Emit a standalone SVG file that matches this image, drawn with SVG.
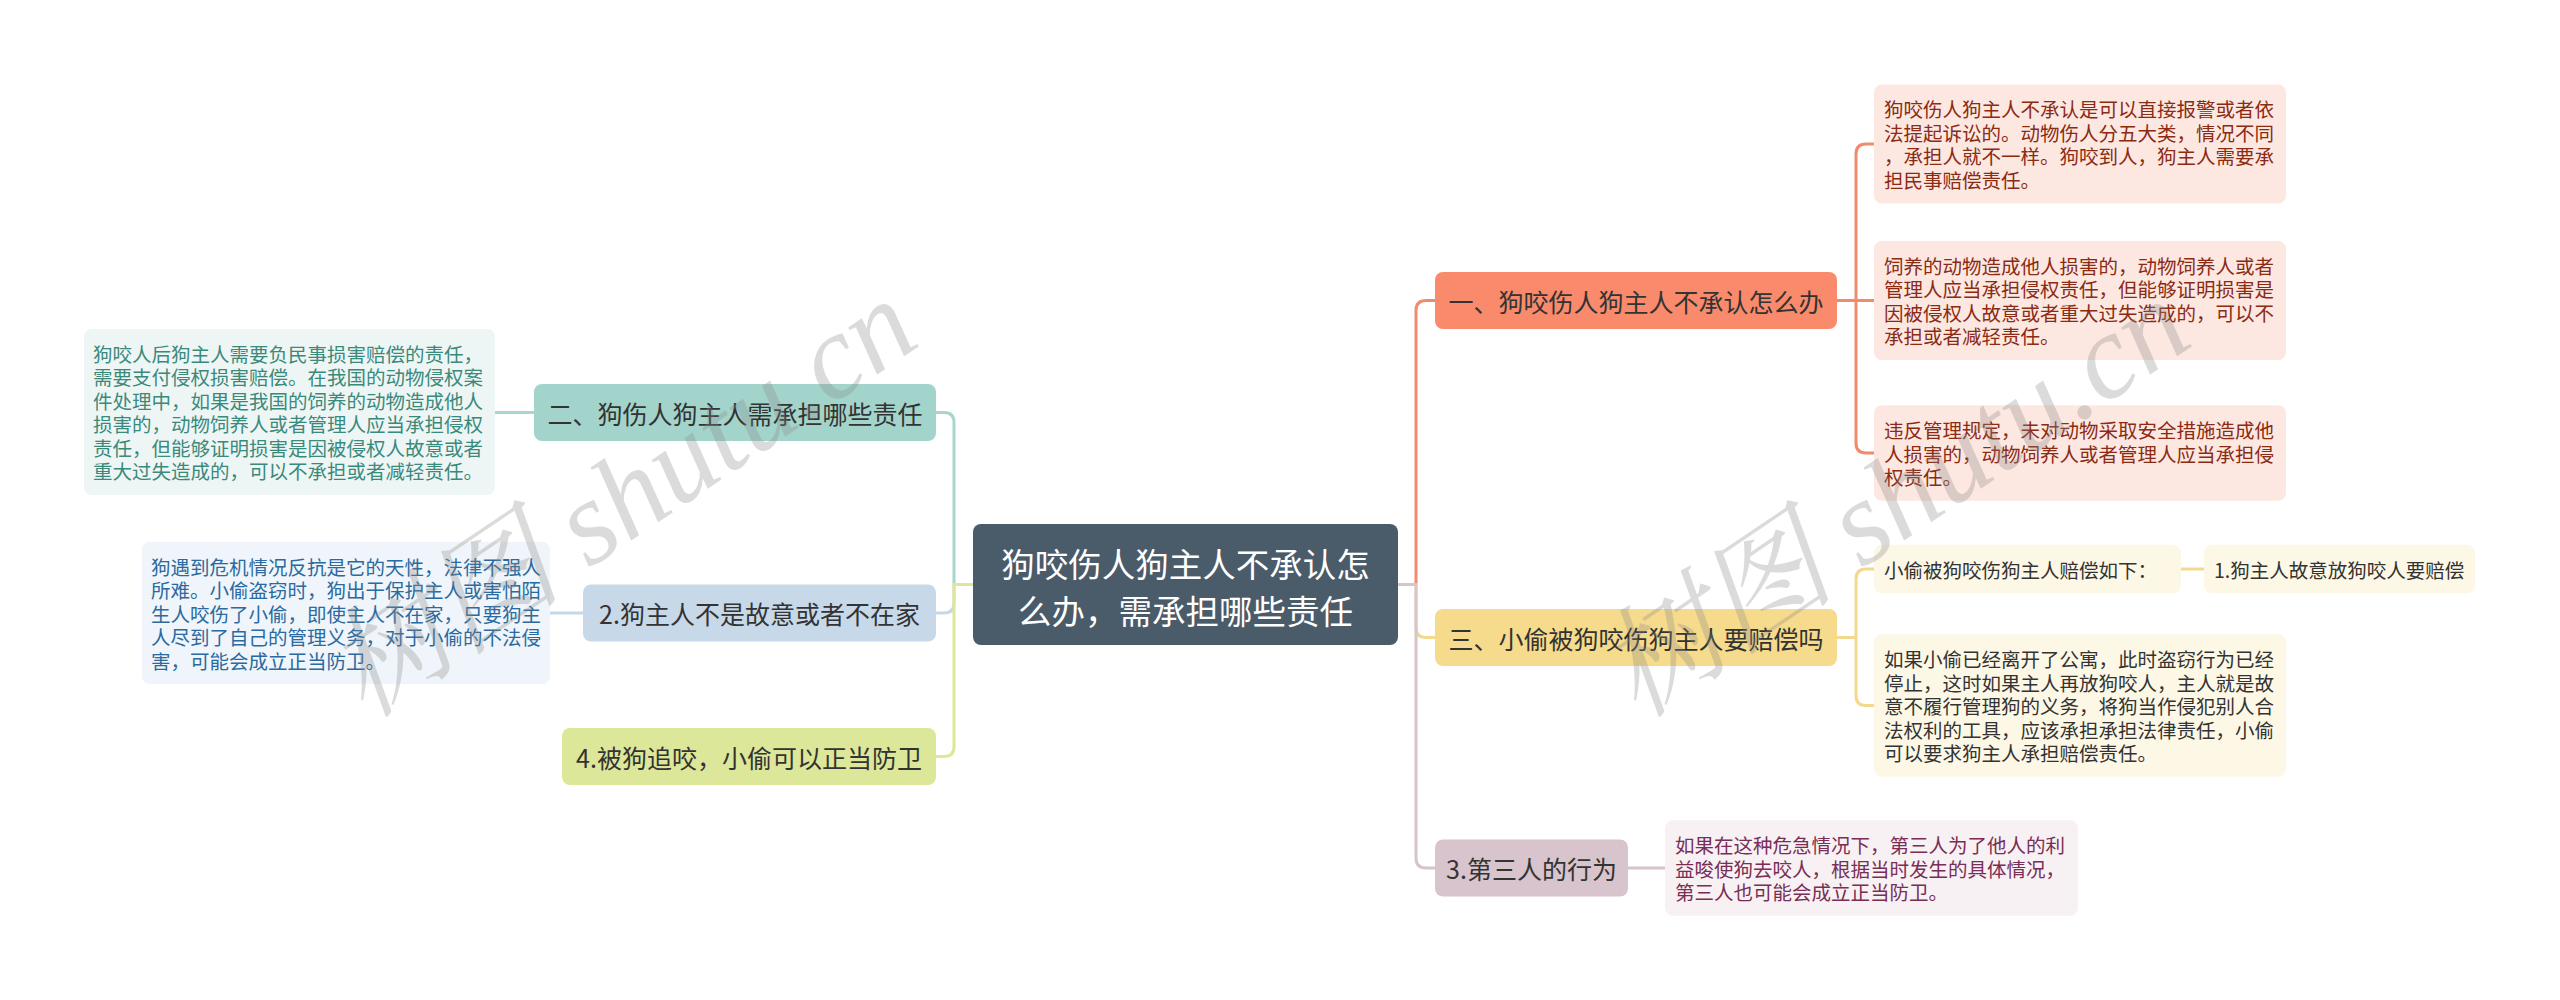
<svg xmlns="http://www.w3.org/2000/svg" width="2560" height="1000" viewBox="0 0 2560 1000">
<style>
text{font-family:"Noto Sans CJK SC","Liberation Sans",sans-serif;}
.br{font-size:25px;fill:#333;text-anchor:middle;dominant-baseline:central;}
.lf{font-size:19.5px;dominant-baseline:central;}
.ln{fill:none;stroke-width:3;stroke-linecap:round;stroke-linejoin:round;}
.wm{font-family:"Liberation Serif","Noto Serif CJK SC","Noto Sans CJK SC",serif;font-style:italic;font-size:120px;fill:#8a8a8a;opacity:0.3;}
</style>
<rect width="2560" height="1000" fill="#ffffff"/>
<g id="connectors">
<path class="ln" stroke="#a8d6ce" d="M973 584.5H954V422.5Q954 412.5 944 412.5H936"/>
<path class="ln" stroke="#c5d8e8" d="M973 584.5H954V603Q954 613 944 613H936"/>
<path class="ln" stroke="#dde79a" d="M973 584.5H954V746.5Q954 756.5 944 756.5H936"/>
<path class="ln" stroke="#a8d6ce" d="M534 412.5H495"/>
<path class="ln" stroke="#c5d8e8" d="M583 613H550"/>
<path class="ln" stroke="#f08b6d" d="M1398 584.5H1416V310.5Q1416 300.5 1426 300.5H1435"/>
<path class="ln" stroke="#f3d98e" d="M1398 584.5H1416V627.5Q1416 637.5 1426 637.5H1435"/>
<path class="ln" stroke="#d7c4cc" d="M1398 584.5H1416V858Q1416 868 1426 868H1435"/>
<path class="ln" stroke="#f08b6d" d="M1837 300.5H1856V154Q1856 144 1866 144H1874"/>
<path class="ln" stroke="#f08b6d" d="M1837 300.5H1874"/>
<path class="ln" stroke="#f08b6d" d="M1837 300.5H1856V443Q1856 453 1866 453H1874"/>
<path class="ln" stroke="#f3d98e" d="M1837 637.5H1856V579Q1856 569 1866 569H1874"/>
<path class="ln" stroke="#f3d98e" d="M1837 637.5H1856V695.5Q1856 705.5 1866 705.5H1874"/>
<path class="ln" stroke="#f3d98e" d="M2181 569H2204"/>
<path class="ln" stroke="#d7c4cc" d="M1628 868H1665"/>
</g>
<g id="root">
<rect x="973" y="524" width="425" height="121" rx="8" fill="#4a5b6a"/>
<text x="1185.5" y="562" font-size="33.5" fill="#ffffff" text-anchor="middle" dominant-baseline="central">狗咬伤人狗主人不承认怎</text>
<text x="1185.5" y="609" font-size="33.5" fill="#ffffff" text-anchor="middle" dominant-baseline="central">么办，需承担哪些责任</text>
</g>
<g id="n-er">
<rect x="534" y="384" width="402" height="57" rx="8" fill="#a3d4cb"/>
<text class="br" x="735" y="412.5">二、狗伤人狗主人需承担哪些责任</text>
</g>
<g id="n-er-leaf">
<rect x="84" y="329" width="411" height="166" rx="8" fill="#eef6f5"/>
<g class="lf" fill="#3a8a7c">
<text x="93" y="353.25">狗咬人后狗主人需要负民事损害赔偿的责任，</text>
<text x="93" y="376.75">需要支付侵权损害赔偿。在我国的动物侵权案</text>
<text x="93" y="400.25">件处理中，如果是我国的饲养的动物造成他人</text>
<text x="93" y="423.75">损害的，动物饲养人或者管理人应当承担侵权</text>
<text x="93" y="447.25">责任，但能够证明损害是因被侵权人故意或者</text>
<text x="93" y="470.75">重大过失造成的，可以不承担或者减轻责任。</text>
</g>
</g>
<g id="n-2">
<rect x="583" y="584.5" width="353" height="57" rx="8" fill="#c7d9e9"/>
<text class="br" x="759.5" y="613">2.狗主人不是故意或者不在家</text>
</g>
<g id="n-2-leaf">
<rect x="142" y="541.75" width="408" height="142.5" rx="8" fill="#eff5fa"/>
<g class="lf" fill="#2a6aa0">
<text x="151" y="566">狗遇到危机情况反抗是它的天性，法律不强人</text>
<text x="151" y="589.5">所难。小偷盗窃时，狗出于保护主人或害怕陌</text>
<text x="151" y="613">生人咬伤了小偷，即使主人不在家，只要狗主</text>
<text x="151" y="636.5">人尽到了自己的管理义务，对于小偷的不法侵</text>
<text x="151" y="660">害，可能会成立正当防卫。</text>
</g>
</g>
<g id="n-4">
<rect x="562" y="728" width="374" height="57" rx="8" fill="#dde79a"/>
<text class="br" x="749" y="756.5">4.被狗追咬，小偷可以正当防卫</text>
</g>
<g id="n-yi">
<rect x="1435" y="272" width="402" height="57" rx="8" fill="#f98a6b"/>
<text class="br" x="1636" y="300.5">一、狗咬伤人狗主人不承认怎么办</text>
</g>
<g id="n-yi-leaf1">
<rect x="1874" y="84.5" width="412" height="119" rx="8" fill="#fde7e1"/>
<g class="lf" fill="#8a2b14">
<text x="1884" y="108.75">狗咬伤人狗主人不承认是可以直接报警或者依</text>
<text x="1884" y="132.25">法提起诉讼的。动物伤人分五大类，情况不同</text>
<text x="1884" y="155.75">，承担人就不一样。狗咬到人，狗主人需要承</text>
<text x="1884" y="179.25">担民事赔偿责任。</text>
</g>
</g>
<g id="n-yi-leaf2">
<rect x="1874" y="241" width="412" height="119" rx="8" fill="#fde7e1"/>
<g class="lf" fill="#8a2b14">
<text x="1884" y="265.25">饲养的动物造成他人损害的，动物饲养人或者</text>
<text x="1884" y="288.75">管理人应当承担侵权责任，但能够证明损害是</text>
<text x="1884" y="312.25">因被侵权人故意或者重大过失造成的，可以不</text>
<text x="1884" y="335.75">承担或者减轻责任。</text>
</g>
</g>
<g id="n-yi-leaf3">
<rect x="1874" y="405.25" width="412" height="95.5" rx="8" fill="#fde7e1"/>
<g class="lf" fill="#8a2b14">
<text x="1884" y="429.5">违反管理规定，未对动物采取安全措施造成他</text>
<text x="1884" y="453">人损害的，动物饲养人或者管理人应当承担侵</text>
<text x="1884" y="476.5">权责任。</text>
</g>
</g>
<g id="n-san">
<rect x="1435" y="609" width="402" height="57" rx="8" fill="#f6db8c"/>
<text class="br" x="1636" y="637.5">三、小偷被狗咬伤狗主人要赔偿吗</text>
</g>
<g id="n-san-leafa">
<rect x="1874" y="544.75" width="307" height="48.5" rx="8" fill="#fdf8e6"/>
<text class="lf" x="1884" y="569" fill="#333">小偷被狗咬伤狗主人赔偿如下：</text>
</g>
<g id="n-san-leafa-child">
<rect x="2204" y="544.75" width="271" height="48.5" rx="8" fill="#fdf8e6"/>
<text class="lf" x="2214" y="569" fill="#333">1.狗主人故意放狗咬人要赔偿</text>
</g>
<g id="n-san-leafb">
<rect x="1874" y="634.25" width="412" height="142.5" rx="8" fill="#fdf8e6"/>
<g class="lf" fill="#333">
<text x="1884" y="658.5">如果小偷已经离开了公寓，此时盗窃行为已经</text>
<text x="1884" y="682">停止，这时如果主人再放狗咬人，主人就是故</text>
<text x="1884" y="705.5">意不履行管理狗的义务，将狗当作侵犯别人合</text>
<text x="1884" y="729">法权利的工具，应该承担承担法律责任，小偷</text>
<text x="1884" y="752.5">可以要求狗主人承担赔偿责任。</text>
</g>
</g>
<g id="n-3">
<rect x="1435" y="839.5" width="193" height="57" rx="8" fill="#d8c4cc"/>
<text class="br" x="1531.5" y="868">3.第三人的行为</text>
</g>
<g id="n-3-leaf">
<rect x="1665" y="820.25" width="413" height="95.5" rx="8" fill="#f7f1f3"/>
<g class="lf" fill="#7a2d55">
<text x="1675" y="844.5">如果在这种危急情况下，第三人为了他人的利</text>
<text x="1675" y="868">益唆使狗去咬人，根据当时发生的具体情况，</text>
<text x="1675" y="891.5">第三人也可能会成立正当防卫。</text>
</g>
</g>
<g id="watermark">
<text class="wm" x="365" y="720" transform="rotate(-34 365 720)">树图 shutu.cn</text>
<text class="wm" x="1638" y="720" transform="rotate(-34 1638 720)">树图 shutu.cn</text>
</g>
</svg>
